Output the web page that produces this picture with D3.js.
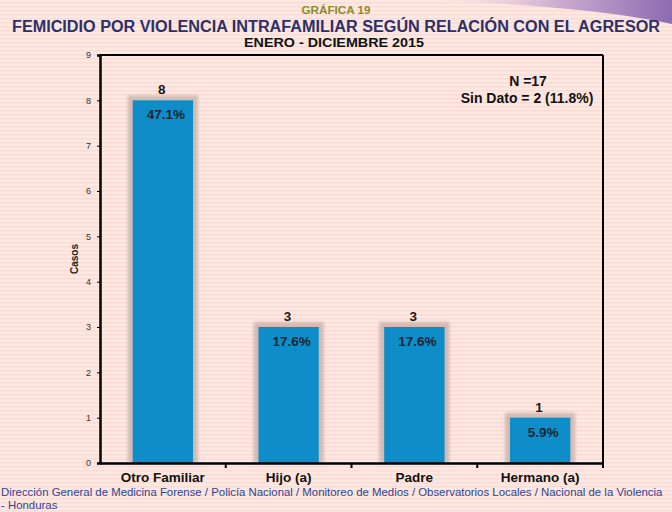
<!DOCTYPE html>
<html>
<head>
<meta charset="utf-8">
<script src="https://cdn.jsdelivr.net/npm/d3@7"></script>
<style>
  body { margin: 0; background: #fde7e1; }
  svg { display: block; font-family: "Liberation Sans", Arial, sans-serif; }
</style>
</head>
<body>
<svg id="chart" width="672" height="512"></svg>
<script>
// data
var categories = ['Otro Familiar', 'Hijo (a)', 'Padre', 'Hermano (a)'];
var casos = [8, 3, 3, 1];
var porcentajes = ['47.1%', '17.6%', '17.6%', '5.9%'];
var yTicks = [0, 1, 2, 3, 4, 5, 6, 7, 8, 9];

var svg = d3.select('#chart');
var W = 672, H = 512;
var margin = { top: 55, right: 69, bottom: 49, left: 100 };
var innerW = W - margin.left - margin.right;
var innerH = H - margin.top - margin.bottom;

// background with faint stripes
var defs = svg.append('defs');
var pat = defs.append('pattern')
  .attr('id', 'stripes')
  .attr('width', 8).attr('height', 4)
  .attr('patternUnits', 'userSpaceOnUse');
pat.append('rect').attr('width', 8).attr('height', 4).attr('fill', '#fde8e2');
pat.append('rect').attr('y', 2).attr('width', 8).attr('height', 1.5).attr('fill', '#f9dcd5');

var grad = defs.append('linearGradient').attr('id', 'swoosh')
  .attr('x1', '0%').attr('x2', '100%');
grad.append('stop').attr('offset', '0%').attr('stop-color', '#f4d8e0').attr('stop-opacity', 0);
grad.append('stop').attr('offset', '55%').attr('stop-color', '#c9a9cf');
grad.append('stop').attr('offset', '100%').attr('stop-color', '#8d6bb0');

var blur = defs.append('filter').attr('id', 'soft')
  .attr('x', '-20%').attr('y', '-20%').attr('width', '140%').attr('height', '140%');
blur.append('feGaussianBlur').attr('stdDeviation', 1.5);

svg.append('rect').attr('width', W).attr('height', H).attr('fill', 'url(#stripes)');

svg.append('path')
  .attr('d', 'M430,0 C520,4 610,10 672,24 L672,0 Z')
  .attr('fill', 'url(#swoosh)');

// titles
svg.append('text')
  .attr('x', 336).attr('y', 14)
  .attr('text-anchor', 'middle')
  .attr('textLength', 69).attr('lengthAdjust', 'spacingAndGlyphs')
  .style('font-size', '11px').style('font-weight', 'bold')
  .attr('fill', '#8c8c2c')
  .text('GRÁFICA 19');

svg.append('text')
  .attr('x', 336).attr('y', 31.5)
  .attr('text-anchor', 'middle')
  .attr('textLength', 648).attr('lengthAdjust', 'spacingAndGlyphs')
  .style('font-size', '16px').style('font-weight', 'bold')
  .attr('fill', '#2b3068')
  .text('FEMICIDIO POR VIOLENCIA INTRAFAMILIAR SEGÚN RELACIÓN CON EL AGRESOR');

svg.append('text')
  .attr('x', 334).attr('y', 47)
  .attr('text-anchor', 'middle')
  .attr('textLength', 180).attr('lengthAdjust', 'spacingAndGlyphs')
  .style('font-size', '13px').style('font-weight', 'bold')
  .attr('fill', '#111')
  .text('ENERO - DICIEMBRE 2015');

var g = svg.append('g').attr('transform', `translate(${margin.left},${margin.top})`);

var x = d3.scaleBand()
  .domain(categories)
  .range([0, innerW])
  .paddingInner(0.52)
  .paddingOuter(0.26);

var y = d3.scaleLinear()
  .domain([0, 9])
  .range([innerH, 0]);

// frame top and right
g.append('line').attr('x1', 0).attr('x2', innerW).attr('y1', 0).attr('y2', 0)
  .attr('stroke', '#000').attr('stroke-width', 2);
g.append('line').attr('x1', innerW).attr('x2', innerW).attr('y1', 0).attr('y2', innerH)
  .attr('stroke', '#000').attr('stroke-width', 2);

// bar shadows
g.selectAll('.shadow')
  .data(categories)
  .enter()
  .append('rect')
  .attr('class', 'shadow')
  .attr('x', d => x(d) - 5)
  .attr('y', (d, i) => y(casos[i]) - 5)
  .attr('width', x.bandwidth() + 10)
  .attr('height', (d, i) => innerH - y(casos[i]) + 5)
  .attr('fill', '#c4aaa3')
  .attr('opacity', 0.7)
  .attr('filter', 'url(#soft)');

// bars
g.selectAll('.bar')
  .data(categories)
  .enter()
  .append('rect')
  .attr('class', 'bar')
  .attr('x', d => x(d))
  .attr('y', (d, i) => y(casos[i]))
  .attr('width', x.bandwidth())
  .attr('height', (d, i) => innerH - y(casos[i]))
  .attr('fill', '#0e8dc9');

// count above bars
g.selectAll('.count')
  .data(categories)
  .enter()
  .append('text')
  .attr('class', 'count')
  .attr('x', d => x(d) + x.bandwidth() / 2 - 1)
  .attr('y', (d, i) => y(casos[i]) - 6)
  .attr('text-anchor', 'middle')
  .style('font-size', '13.5px').style('font-weight', 'bold')
  .attr('fill', '#1a1a1a')
  .text((d, i) => casos[i]);

// percent inside bars
g.selectAll('.pct')
  .data(categories)
  .enter()
  .append('text')
  .attr('class', 'pct')
  .attr('x', d => x(d) + x.bandwidth() / 2 + 3)
  .attr('y', (d, i) => y(casos[i]) + 19)
  .attr('text-anchor', 'middle')
  .style('font-size', '13.5px').style('font-weight', 'bold')
  .attr('fill', '#1b2633')
  .text((d, i) => porcentajes[i]);

// y axis
var yAxis = g.append('g')
  .call(d3.axisLeft(y).tickValues(yTicks).tickSize(3).tickPadding(6));
yAxis.select('.domain').attr('stroke', '#000').attr('stroke-width', 2.5);
yAxis.selectAll('.tick line').attr('stroke', '#000');
yAxis.selectAll('.tick text')
  .style('font-size', '9px')
  .style('font-family', '"Liberation Sans", Arial, sans-serif')
  .attr('fill', '#333');

// x axis: ticks sit between categories
var xAxis = g.append('g')
  .attr('transform', `translate(0,${innerH})`)
  .call(d3.axisBottom(x).tickSize(0).tickPadding(9));
xAxis.select('.domain').attr('stroke', '#000').attr('stroke-width', 2.5);
xAxis.selectAll('.tick text')
  .style('font-size', '13.5px').style('font-weight', 'bold')
  .style('font-family', '"Liberation Sans", Arial, sans-serif')
  .attr('fill', '#111');
xAxis.selectAll('.sep')
  .data(categories)
  .enter()
  .append('line')
  .attr('class', 'sep')
  .attr('x1', (d, i) => innerW * (i + 1) / categories.length)
  .attr('x2', (d, i) => innerW * (i + 1) / categories.length)
  .attr('y1', 0).attr('y2', 5)
  .attr('stroke', '#000').attr('stroke-width', 2);

// y label
g.append('text')
  .attr('transform', `translate(-22,${innerH / 2}) rotate(-90)`)
  .attr('text-anchor', 'middle')
  .style('font-size', '10px').style('font-weight', 'bold')
  .attr('fill', '#222')
  .text('Casos');

// N note
g.append('text')
  .attr('x', 428).attr('y', 31)
  .attr('text-anchor', 'middle')
  .style('font-size', '14px').style('font-weight', 'bold')
  .attr('fill', '#111')
  .text('N =17');
g.append('text')
  .attr('x', 427).attr('y', 48)
  .attr('text-anchor', 'middle')
  .style('font-size', '14px').style('font-weight', 'bold')
  .attr('fill', '#111')
  .text('Sin Dato = 2 (11.8%)');

// source
svg.append('text')
  .attr('x', 1).attr('y', 496)
  .style('font-size', '11.4px')
  .attr('fill', '#2f4590')
  .text('Dirección General de Medicina Forense / Policía Nacional / Monitoreo de Medios / Observatorios Locales / Nacional de la Violencia');
svg.append('text')
  .attr('x', 1).attr('y', 509)
  .style('font-size', '11.4px')
  .attr('fill', '#2f4590')
  .text('- Honduras');
</script>
</body>
</html>
